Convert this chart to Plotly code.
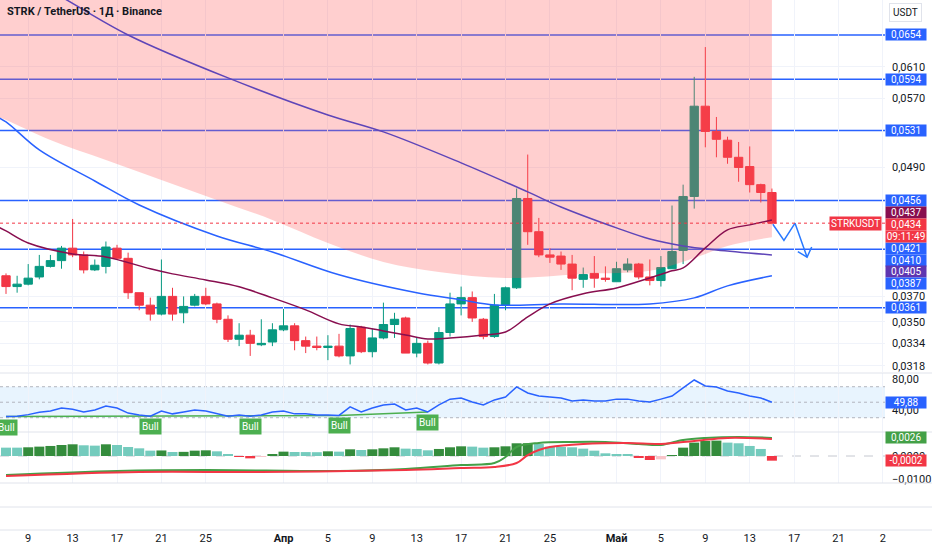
import math
import plotly.graph_objects as go
from plotly.subplots import make_subplots
import pandas as pd

# daily candles, 7 Mar .. 15 May
days = pd.date_range("2025-03-07", periods=70, freq="D")

opens = [0.0387, 0.0378, 0.0380, 0.0386, 0.0395, 0.0400, 0.0411, 0.0405, 0.0392, 0.0395,
         0.0411, 0.0402, 0.0373, 0.0363, 0.0356, 0.0370, 0.0357, 0.0363, 0.0370, 0.0364,
         0.0352, 0.0337, 0.0340, 0.0333, 0.0335, 0.0344, 0.0347, 0.0336, 0.0332, 0.0331,
         0.0332, 0.0325, 0.0346, 0.0328, 0.0338, 0.0348, 0.0353, 0.0327, 0.0334, 0.0320,
         0.0342, 0.0364, 0.0369, 0.0352, 0.0339, 0.0363, 0.0377, 0.0458, 0.0426, 0.0405,
         0.0404, 0.0397, 0.0384, 0.0389, 0.0385, 0.0382, 0.0392, 0.0397, 0.0386, 0.0383,
         0.0393, 0.0409, 0.0460, 0.0560, 0.0530, 0.0520, 0.0501, 0.0491, 0.0472, 0.0464]
highs = [0.0389, 0.0387, 0.0397, 0.0405, 0.0405, 0.0413, 0.0438, 0.0408, 0.0401, 0.0417,
         0.0414, 0.0407, 0.0373, 0.0369, 0.0401, 0.0377, 0.0370, 0.0372, 0.0377, 0.0365,
         0.0355, 0.0349, 0.0344, 0.0352, 0.0349, 0.0360, 0.0349, 0.0339, 0.0339, 0.0340,
         0.0341, 0.0348, 0.0347, 0.0345, 0.0365, 0.0357, 0.0354, 0.0338, 0.0336, 0.0346,
         0.0373, 0.0378, 0.0374, 0.0353, 0.0372, 0.0378, 0.0468, 0.0504, 0.0439, 0.0411,
         0.0408, 0.0405, 0.0394, 0.0404, 0.0395, 0.0399, 0.0402, 0.0398, 0.0401, 0.0404,
         0.0451, 0.0472, 0.0597, 0.0637, 0.0547, 0.0524, 0.0518, 0.0513, 0.0473, 0.0468]
lows = [0.0372, 0.0373, 0.0379, 0.0384, 0.0394, 0.0393, 0.0403, 0.0389, 0.0391, 0.0389,
        0.0401, 0.0368, 0.0359, 0.0351, 0.0355, 0.0351, 0.0349, 0.0362, 0.0363, 0.0349,
        0.0335, 0.0332, 0.0325, 0.0332, 0.0332, 0.0343, 0.0329, 0.0327, 0.0329, 0.0322,
        0.0324, 0.0319, 0.0327, 0.0324, 0.0337, 0.0338, 0.0327, 0.0324, 0.0319, 0.0319,
        0.0339, 0.0355, 0.0350, 0.0337, 0.0338, 0.0359, 0.0376, 0.0414, 0.0403, 0.0398,
        0.0392, 0.0375, 0.0377, 0.0377, 0.0382, 0.0382, 0.0390, 0.0384, 0.0379, 0.0378,
        0.0393, 0.0397, 0.0448, 0.0512, 0.0501, 0.0494, 0.0475, 0.0464, 0.0454, 0.0433]
closes = [0.0378, 0.0380, 0.0385, 0.0395, 0.0400, 0.0411, 0.0405, 0.0392, 0.0396, 0.0412,
          0.0402, 0.0373, 0.0363, 0.0356, 0.0370, 0.0356, 0.0362, 0.0370, 0.0364, 0.0352,
          0.0337, 0.0340, 0.0334, 0.0334, 0.0344, 0.0347, 0.0336, 0.0332, 0.0331, 0.0332,
          0.0325, 0.0345, 0.0328, 0.0338, 0.0348, 0.0352, 0.0327, 0.0334, 0.0320, 0.0342,
          0.0364, 0.0369, 0.0353, 0.0339, 0.0363, 0.0377, 0.0458, 0.0426, 0.0405, 0.0403,
          0.0397, 0.0385, 0.0388, 0.0385, 0.0384, 0.0393, 0.0397, 0.0386, 0.0383, 0.0394,
          0.0408, 0.0460, 0.0560, 0.0530, 0.0521, 0.0501, 0.0490, 0.0472, 0.0464, 0.0434]

# moving averages (read at sample dates)
fast_dates = ["2025-03-06", "2025-03-07", "2025-03-09", "2025-03-13", "2025-03-16", "2025-03-20",
              "2025-03-22", "2025-03-25", "2025-03-28", "2025-03-31", "2025-04-03", "2025-04-06",
              "2025-04-08", "2025-04-10", "2025-04-12", "2025-04-14", "2025-04-16", "2025-04-19",
              "2025-04-21", "2025-04-23", "2025-04-25", "2025-04-28", "2025-05-01", "2025-05-04",
              "2025-05-06", "2025-05-07", "2025-05-09", "2025-05-11", "2025-05-13", "2025-05-15"]
fast_ma = [0.0432, 0.04268, 0.04157, 0.04059, 0.04032, 0.03929, 0.03886, 0.03835, 0.03778, 0.03688,
           0.03593, 0.03485, 0.03462, 0.03432, 0.03402, 0.03372, 0.03380, 0.03402, 0.03424, 0.03538,
           0.03640, 0.03721, 0.03769, 0.03852, 0.03912, 0.03937, 0.04112, 0.04277, 0.04324, 0.0437]

slow_dates = ["2025-03-06", "2025-03-07", "2025-03-12", "2025-03-18", "2025-03-27", "2025-04-05",
              "2025-04-10", "2025-04-17", "2025-04-23", "2025-04-26", "2025-05-01", "2025-05-04",
              "2025-05-07", "2025-05-10", "2025-05-15"]
slow_ma = [0.0770, 0.0760, 0.07105, 0.0654, 0.05956, 0.05494, 0.05295, 0.04949, 0.04646, 0.04496,
           0.04296, 0.04193, 0.04130, 0.04094, 0.0405]

mid_dates = ["2025-03-06", "2025-03-07", "2025-03-10", "2025-03-15", "2025-03-19", "2025-03-26",
             "2025-03-31", "2025-04-06", "2025-04-13", "2025-04-17", "2025-04-20", "2025-04-26",
             "2025-05-04", "2025-05-08", "2025-05-11", "2025-05-15"]
mid_ma = [0.05483, 0.05412, 0.05091, 0.04758, 0.04515, 0.04221, 0.04076, 0.03878, 0.03729, 0.03672,
          0.03632, 0.03640, 0.03640, 0.03688, 0.03786, 0.0387]

cloud_dates = ["2025-03-06", "2025-03-07", "2025-03-11", "2025-03-16", "2025-03-21", "2025-03-26",
               "2025-03-31", "2025-04-05", "2025-04-10", "2025-04-15", "2025-04-21", "2025-04-28",
               "2025-05-04", "2025-05-08", "2025-05-11", "2025-05-15"]
cloud_low = [0.0548, 0.05435, 0.05203, 0.04981, 0.04769, 0.04565, 0.04371, 0.04157, 0.03989, 0.03903,
             0.03852, 0.03886, 0.03912, 0.04023, 0.04130, 0.0421]
cloud_high = [0.0960, 0.0955, 0.0940, 0.0925, 0.0910, 0.0895, 0.0880, 0.0865, 0.0850, 0.0840,
              0.0830, 0.0820, 0.0810, 0.0805, 0.0800, 0.0795]

levels = [0.0654, 0.0594, 0.0531, 0.0456, 0.0410, 0.0361]
last_price = 0.0434
countdown = "09:11:49"

# hand-drawn projection
proj_dates = ["2025-05-15 02:00", "2025-05-16 02:00", "2025-05-17 02:00", "2025-05-18 04:00"]
proj_prices = [0.0433, 0.0418, 0.0434, 0.0403]
head_dates = ["2025-05-17 08:00", "2025-05-18 04:00", "2025-05-18 14:00"]
head_prices = [0.0408, 0.0403, 0.0412]

rsi = [31.5, 32, 34, 37, 38.7, 42.6, 41, 37.4, 40, 45,
       42.6, 36, 33.5, 32, 38.7, 35, 37.4, 40, 38.7, 35,
       32, 33.5, 32, 33.5, 37.4, 38.7, 35, 35, 33.5, 33.5,
       33, 44, 37.4, 42.6, 46.5, 47.7, 40, 42.6, 37.4, 46.5,
       54, 55.5, 50.3, 46.5, 53, 56.8, 69.7, 62, 58, 56.8,
       55.5, 51.6, 53, 51.6, 51.6, 54, 54, 51.6, 50.3, 54,
       58, 68.4, 78.7, 71, 69.7, 64.5, 62, 58, 55.5, 49.88]
bull_dates = ["2025-03-07", "2025-03-20", "2025-03-29", "2025-04-06", "2025-04-14"]
bull_rsi = [31.5, 32, 32, 33, 37.4]

macd_hist = [0.00362, 0.00362, 0.00377, 0.00406, 0.00435, 0.00478, 0.00507, 0.00464, 0.00449, 0.00507,
             0.00478, 0.00391, 0.00333, 0.00232, 0.00240, 0.00174, 0.00180, 0.00232, 0.00246, 0.00203,
             0.00058, -0.00020, -0.00102, -0.00029, 0.00087, 0.00189, 0.00174, 0.00170, 0.00165, 0.00203,
             0.00189, 0.00290, 0.00261, 0.00290, 0.00333, 0.00377, 0.00319, 0.00305, 0.00246, 0.00305,
             0.00377, 0.00420, 0.00406, 0.00362, 0.00377, 0.00420, 0.00551, 0.00555, 0.00522, 0.00406,
             0.00391, 0.00377, 0.00319, 0.00232, 0.00116, 0.00072, 0.00058, -0.00072, -0.00174, -0.00145,
             0.00010, 0.00362, 0.00580, 0.00652, 0.00667, 0.00580, 0.00551, 0.00435, 0.00305, -0.00203]
macd_dates = ["2025-03-07", "2025-03-17", "2025-03-25", "2025-04-06", "2025-04-12", "2025-04-17",
              "2025-04-20", "2025-04-21", "2025-04-22", "2025-04-24", "2025-04-27", "2025-04-30",
              "2025-05-03", "2025-05-05", "2025-05-07", "2025-05-09", "2025-05-12", "2025-05-15"]
macd_line = [-0.00826, -0.00652, -0.00609, -0.00652, -0.00565, -0.00391, -0.00304, -0.00043, 0.00391,
             0.00565, 0.00609, 0.00609, 0.00522, 0.00478, 0.00696, 0.00783, 0.00826, 0.00783]
signal_dates = ["2025-03-07", "2025-03-19", "2025-03-30", "2025-04-12", "2025-04-17", "2025-04-20",
                "2025-04-22", "2025-04-23", "2025-04-24", "2025-04-25", "2025-04-28", "2025-05-02",
                "2025-05-05", "2025-05-08", "2025-05-11", "2025-05-15"]
signal_line = [-0.0087, -0.00696, -0.00696, -0.00609, -0.00522, -0.00478, -0.00304, 0.0004, 0.0026,
               0.0039, 0.00522, 0.00565, 0.00522, 0.00652, 0.00783, 0.00739]
macd_tags = ["0,0026", "-0,0002"]

tick_dates = ["2025-03-09", "2025-03-13", "2025-03-17", "2025-03-21", "2025-03-25", "2025-04-01",
              "2025-04-05", "2025-04-09", "2025-04-13", "2025-04-17", "2025-04-21", "2025-04-25",
              "2025-05-01", "2025-05-05", "2025-05-09", "2025-05-13", "2025-05-17", "2025-05-21",
              "2025-05-25"]
tick_labels = ["9", "13", "17", "21", "25", "<b>Апр</b>", "5", "9", "13", "17", "21", "25",
               "<b>Май</b>", "5", "9", "13", "17", "21", "2"]
price_ticks = [0.0610, 0.0570, 0.0490, 0.0370, 0.0350, 0.0334, 0.0318]

FONT = "Roboto"
TXT = "#131722"
GRID = "#f0f3fa"
BLUE = "#2962ff"
RED = "#f23645"
GREEN = "#089981"

fig = make_subplots(rows=4, cols=1, shared_xaxes=True, vertical_spacing=0)

# pink cloud
fig.add_trace(go.Scatter(x=cloud_dates, y=cloud_high, mode="lines", line=dict(width=0, shape="spline"),
                         hoverinfo="skip", showlegend=False), row=1, col=1)
fig.add_trace(go.Scatter(x=cloud_dates, y=cloud_low, mode="lines", line=dict(width=0, shape="spline"),
                         fill="tonexty", fillcolor="rgba(255,82,82,0.28)",
                         hoverinfo="skip", showlegend=False), row=1, col=1)

fig.add_trace(go.Candlestick(x=days, open=opens, high=highs, low=lows, close=closes,
                             increasing=dict(line=dict(color=GREEN, width=1), fillcolor=GREEN),
                             decreasing=dict(line=dict(color=RED, width=1), fillcolor=RED),
                             whiskerwidth=0, showlegend=False), row=1, col=1)

fig.add_trace(go.Scatter(x=slow_dates, y=slow_ma, mode="lines",
                         line=dict(color="#5e45b8", width=1.5, shape="spline"), showlegend=False), row=1, col=1)
fig.add_trace(go.Scatter(x=mid_dates, y=mid_ma, mode="lines",
                         line=dict(color=BLUE, width=1.5, shape="spline"), showlegend=False), row=1, col=1)
fig.add_trace(go.Scatter(x=fast_dates, y=fast_ma, mode="lines",
                         line=dict(color="#880e4f", width=1.5, shape="spline"), showlegend=False), row=1, col=1)

fig.add_trace(go.Scatter(x=proj_dates, y=proj_prices, mode="lines",
                         line=dict(color="#2979ff", width=1.5), showlegend=False), row=1, col=1)
fig.add_trace(go.Scatter(x=head_dates, y=head_prices, mode="lines",
                         line=dict(color="#2979ff", width=1.5), showlegend=False), row=1, col=1)

# RSI pane
fig.add_trace(go.Scatter(x=bull_dates, y=bull_rsi, mode="lines",
                         line=dict(color="#4caf50", width=1.5), showlegend=False), row=2, col=1)
fig.add_trace(go.Scatter(x=days, y=rsi, mode="lines",
                         line=dict(color=BLUE, width=1.5), showlegend=False), row=2, col=1)

# MACD pane
hist_colors = []
prev = None
for v in macd_hist:
    rising = prev is not None and v > prev
    if v >= 0:
        hist_colors.append("#348c3c" if rising else "#74cbbd")
    else:
        hist_colors.append("#f8c4c9" if rising else RED)
    prev = v
fig.add_trace(go.Bar(x=days, y=macd_hist, marker=dict(color=hist_colors, line=dict(width=0)),
                     showlegend=False), row=3, col=1)
fig.add_trace(go.Scatter(x=macd_dates, y=macd_line, mode="lines",
                         line=dict(color="#43a047", width=2, shape="spline"), showlegend=False), row=3, col=1)
fig.add_trace(go.Scatter(x=signal_dates, y=signal_line, mode="lines",
                         line=dict(color=RED, width=2, shape="spline"), showlegend=False), row=3, col=1)

# empty bottom pane, only carries the date axis
fig.add_trace(go.Scatter(x=[days[0], days[-1]], y=[0, 0], mode="lines", line=dict(width=0),
                         hoverinfo="skip", showlegend=False), row=4, col=1)

# pane layout: plot area is 0..530 px tall
H = 530.0
def py(px):
    return (H - px) / H

lo_price, hi_price = 0.03138, 0.07058
fig.update_layout(
    width=932, height=550,
    margin=dict(l=0, r=47, t=0, b=20),
    paper_bgcolor="white", plot_bgcolor="white",
    separators=", ",
    font=dict(family=FONT, size=11, color=TXT),
    bargap=0.1, boxgap=0.25, boxgroupgap=0,
    hovermode=False,
    yaxis=dict(domain=[py(372), 1.0], type="log", range=[math.log10(lo_price), math.log10(hi_price)],
               side="right", tickvals=price_ticks, tickformat=".4f", showgrid=True, gridcolor=GRID,
               zeroline=False, ticks="", ticklabelstandoff=6, fixedrange=True),
    yaxis2=dict(domain=[py(432), py(373)], range=[11.6, 87.7], side="right", tickvals=[80, 40],
                tickformat=".2f", showgrid=False, zeroline=False, ticklabelstandoff=6),
    yaxis3=dict(domain=[py(483), py(432)], range=[-0.0117, 0.0104], side="right", tickvals=[0, -0.01],
                tickformat=".4f", showgrid=False, zeroline=False, ticklabelstandoff=6),
    yaxis4=dict(domain=[0, py(483)], range=[-1, 1], showticklabels=False, showgrid=False, zeroline=False),
)
fig.update_xaxes(range=["2025-03-06 11:00", "2025-05-25 04:30"], tickvals=tick_dates, ticktext=tick_labels,
                 showgrid=True, gridcolor=GRID, zeroline=False, rangeslider=dict(visible=False),
                 ticks="", tickfont=dict(size=11, color=TXT))
fig.update_xaxes(showgrid=False, row=4, col=1)

shapes = []
for lv in levels:
    shapes.append(dict(type="line", xref="x domain", yref="y", x0=0, x1=1, y0=lv, y1=lv,
                       line=dict(color=BLUE, width=1.5), layer="below"))
shapes.append(dict(type="line", xref="x domain", yref="y", x0=0, x1=1, y0=last_price, y1=last_price,
                   line=dict(color=RED, width=1, dash="dot")))
shapes.append(dict(type="rect", xref="x2 domain", yref="y2", x0=0, x1=1, y0=30, y1=70,
                   fillcolor="rgba(33,150,243,0.1)", line=dict(width=0), layer="below"))
for lv in (70, 50, 30):
    shapes.append(dict(type="line", xref="x2 domain", yref="y2", x0=0, x1=1, y0=lv, y1=lv,
                       line=dict(color="#b2b5be", width=1, dash="dot"), layer="below"))
shapes.append(dict(type="line", xref="x3 domain", yref="y3", x0=0, x1=1, y0=0, y1=0,
                   line=dict(color="#c5c8d0", width=1, dash="dash"), layer="below"))
for px in (373, 432, 483, 507, 530):
    shapes.append(dict(type="line", xref="paper", yref="paper", x0=0, x1=1.06, y0=py(px), y1=py(px),
                       line=dict(color="#e0e3eb", width=1)))
fig.update_layout(shapes=shapes)

def fmt(v):
    return f"{v:.4f}".replace(".", ",")

ann = []
def tag(text, y, color, yref="y", shift=0, fcolor="white"):
    # annotations on the log price axis are placed in log10 units
    yy = math.log10(y) if yref == "y" else y
    ann.append(dict(text="\u2009" + text + "\u2009", xref="paper", x=1, xanchor="left", xshift=0,
                    yref=yref, y=yy, yanchor="middle", yshift=shift, showarrow=False, bgcolor=color,
                    borderpad=0, width=40, align="center",
                    font=dict(family=FONT, size=10, color=fcolor)))

# the stacked tags are pushed apart like on the original axis
for lv in levels:
    tag(fmt(lv), lv, BLUE, shift=(-11 if lv == 0.0410 else 0))
tag(fmt(fast_ma[-1]), fast_ma[-1], "#880e4f", shift=8)
tag(fmt(cloud_low[-1]), cloud_low[-1], BLUE, shift=-11)
tag(fmt(slow_ma[-1]), slow_ma[-1], "#5e35b1", shift=-17)
tag(fmt(mid_ma[-1]), mid_ma[-1], BLUE, shift=-8)
tag(fmt(last_price), last_price, RED, shift=-1)
tag(countdown, last_price, RED, shift=-13)
ann.append(dict(text="STRKUSDT", xref="paper", x=1, xanchor="right", xshift=-3, yref="y",
                y=math.log10(last_price), yanchor="middle", showarrow=False, bgcolor=RED, borderpad=1,
                font=dict(family=FONT, size=10, color="white")))
tag(f"{rsi[-1]:.2f}".replace(".", ","), rsi[-1], BLUE, yref="y2")
tag(macd_tags[0], macd_line[-1], "#43a047", yref="y3")
tag(macd_tags[1], macd_hist[-1], RED, yref="y3")

for d, v in zip(bull_dates, bull_rsi):
    ann.append(dict(text="Bull", x=d, y=v, xref="x2", yref="y2", yanchor="top", yshift=-2,
                    showarrow=False, bgcolor="#4caf50", borderpad=2,
                    font=dict(family=FONT, size=10, color="white")))

ann.append(dict(text="<b>STRK / TetherUS · 1Д · Binance</b>", xref="paper", yref="paper", x=0, y=1,
                xanchor="left", yanchor="middle", xshift=5, yshift=-11, showarrow=False,
                font=dict(family=FONT, size=11, color=TXT)))
ann.append(dict(text="USDT", xref="paper", yref="paper", x=1, y=1, xanchor="left", yanchor="top",
                xshift=4, yshift=-3, showarrow=False, bgcolor="white", bordercolor="#e0e3eb",
                borderwidth=1, borderpad=3, font=dict(family=FONT, size=10, color=TXT)))
fig.update_layout(annotations=ann)

fig.write_html("out.html", config={"displayModeBar": False},
               post_script="document.body.style.margin='0';")
